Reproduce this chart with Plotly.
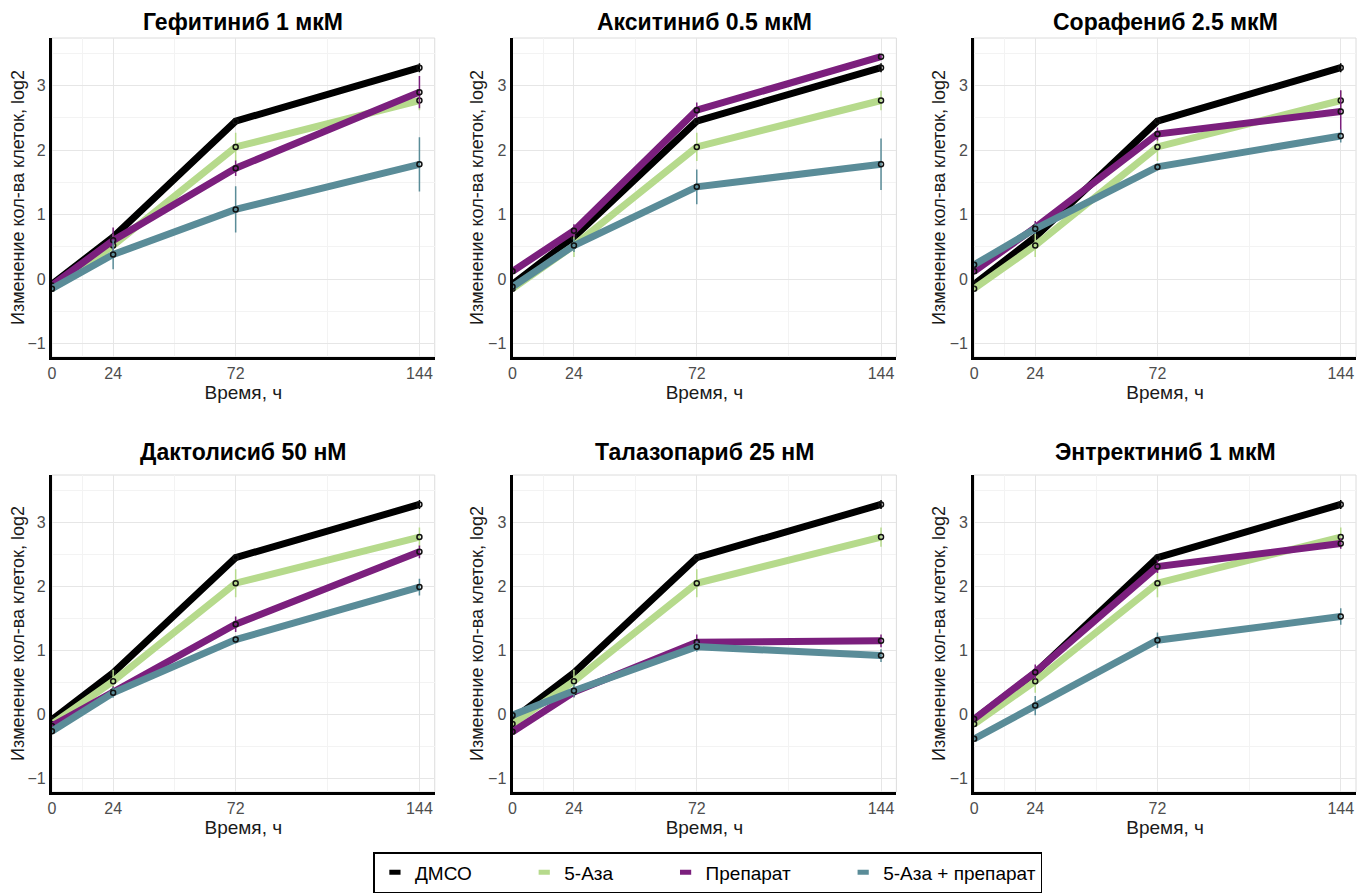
import plotly.graph_objects as go

# ---------------- data ----------------
time_h = [0, 24, 72, 144]
time_labels = ["0", "24", "72", "144"]
panel_titles = ["Гефитиниб 1 мкМ", "Акситиниб 0.5 мкМ", "Сорафениб 2.5 мкМ",
                "Дактолисиб 50 нМ", "Талазопариб 25 нМ", "Энтректиниб 1 мкМ"]
series_names = ["ДМСО", "5-Аза", "Препарат", "5-Аза + препарат"]

dmso = [-0.08, 0.65, 2.45, 3.28]
dmso_err = [0.04, 0.05, 0.05, 0.07]
aza = [-0.15, 0.52, 2.05, 2.77]
aza_err = [0.05, 0.18, 0.22, 0.15]

drug = [
    [-0.10, 0.60, 1.72, 2.90],
    [0.12, 0.75, 2.62, 3.45],
    [0.12, 0.80, 2.25, 2.60],
    [-0.18, 0.36, 1.41, 2.54],
    [-0.27, 0.35, 1.13, 1.15],
    [-0.07, 0.66, 2.31, 2.67],
]
drug_err = [
    [0.05, 0.20, 0.12, 0.25],
    [0.03, 0.10, 0.12, 0.03],
    [0.05, 0.10, 0.10, 0.33],
    [0.05, 0.08, 0.12, 0.10],
    [0.05, 0.08, 0.12, 0.10],
    [0.05, 0.12, 0.10, 0.08],
]
combo = [
    [-0.15, 0.38, 1.08, 1.78],
    [-0.12, 0.52, 1.43, 1.78],
    [0.22, 0.78, 1.74, 2.22],
    [-0.26, 0.34, 1.17, 1.99],
    [-0.01, 0.37, 1.06, 0.92],
    [-0.38, 0.14, 1.16, 1.53],
]
combo_err = [
    [0.05, 0.23, 0.36, 0.42],
    [0.05, 0.10, 0.27, 0.40],
    [0.05, 0.08, 0.05, 0.10],
    [0.05, 0.08, 0.06, 0.13],
    [0.05, 0.10, 0.08, 0.10],
    [0.04, 0.15, 0.12, 0.13],
]

colors = ["#000000", "#b6da8c", "#7b1f7d", "#5a8c98"]

# ---------------- layout geometry ----------------
OFF = 8  # page body margin
W, H = 1370 - 2 * OFF, 893 - OFF
x_px = [(48, 432), (510, 895), (973, 1356)]
y_px = [(38, 357), (475, 792)]


def fx(px):
    return (px - OFF) / W


def fy(py):
    return 1 - (py - OFF) / H


fig = go.Figure()
layout = dict(
    width=W, height=H, margin=dict(l=0, r=0, t=0, b=0),
    paper_bgcolor="white", plot_bgcolor="white",
    font=dict(family="Liberation Sans, Arial, sans-serif", color="#000"),
    showlegend=True,
    legend=dict(orientation="h", x=fx(706), xanchor="center", y=fy(852), yanchor="top",
                bordercolor="#000", borderwidth=1.5, bgcolor="white",
                font=dict(size=19, color="#000"), itemwidth=30),
)
annotations = []
shapes = []

for i in range(6):
    r, c = divmod(i, 3)
    n = i + 1
    xa = "x" if n == 1 else f"x{n}"
    ya = "y" if n == 1 else f"y{n}"
    xd = [fx(x_px[c][0]), fx(x_px[c][1])]
    yd = [fy(y_px[r][1]), fy(y_px[r][0])]

    layout[f"xaxis{'' if n == 1 else n}"] = dict(
        domain=xd, anchor=ya, range=[0, 150], tickvals=time_h, ticktext=time_labels,
        showline=True, linecolor="#000", linewidth=3, zeroline=False,
        showgrid=True, gridcolor="#e6e6e6", gridwidth=1, ticks="",
        tickfont=dict(size=16, color="#4d4d4d"),
        minor=dict(tickvals=[12, 48, 108], showgrid=True, gridcolor="#f3f3f3", gridwidth=1),
        title=dict(text="Время, ч", font=dict(size=19, color="#1a1a1a"), standoff=2),
        fixedrange=True,
    )
    layout[f"yaxis{'' if n == 1 else n}"] = dict(
        domain=yd, anchor=xa, range=[-1.21, 3.74], tickvals=[-1, 0, 1, 2, 3],
        showline=True, linecolor="#000", linewidth=3, zeroline=False,
        showgrid=True, gridcolor="#e6e6e6", gridwidth=1, ticks="",
        tickfont=dict(size=16, color="#4d4d4d"),
        minor=dict(tickvals=[-0.5, 0.5, 1.5, 2.5, 3.5], showgrid=True, gridcolor="#f3f3f3", gridwidth=1),
        title=dict(text="Изменение кол-ва клеток, log2", font=dict(size=18, color="#1a1a1a"), standoff=0),
        fixedrange=True,
    )
    shapes.append(dict(type="rect", xref=f"{xa} domain", yref=f"{ya} domain",
                       x0=0, x1=1, y0=0, y1=1, line=dict(color="#dcdcdc", width=1),
                       layer="below"))
    if r == 0:
        ty, tanchor = 1.0, "top"
    else:
        ty, tanchor = fy(452), "middle"
    annotations.append(dict(text=f"<b>{panel_titles[i]}</b>", xref="paper", yref="paper",
                            x=(xd[0] + xd[1]) / 2, y=ty,
                            xanchor="center", yanchor=tanchor, showarrow=False,
                            borderpad=0, font=dict(size=23, color="#000")))

    sets = [(dmso, dmso_err), (aza, aza_err), (drug[i], drug_err[i]), (combo[i], combo_err[i])]
    for k, (vals, errs) in enumerate(sets):
        fig.add_trace(go.Scatter(
            x=time_h, y=vals, xaxis=xa, yaxis=ya, mode="lines+markers",
            line=dict(color=colors[k], width=7),
            marker=dict(symbol="circle-open", size=5, color="#111", line=dict(width=1.5, color="#111")),
            error_y=dict(type="data", array=errs, visible=True, color=colors[k], thickness=1.5, width=0),
            name=series_names[k], showlegend=False, hoverinfo="skip",
        ))

# legend entries (trailing no-break spaces widen gaps between items)
pad = "\u00a0" * 9
for k in range(4):
    fig.add_trace(go.Scatter(
        x=[None], y=[None], mode="markers",
        name=series_names[k] + (pad if k < 3 else ""),
        marker=dict(symbol="line-ew-open", size=8, color=colors[k],
                    line=dict(width=7, color=colors[k])),
        showlegend=True,
    ))

layout["annotations"] = annotations
layout["shapes"] = shapes
fig.update_layout(**layout)
fig.write_html("out.html")
